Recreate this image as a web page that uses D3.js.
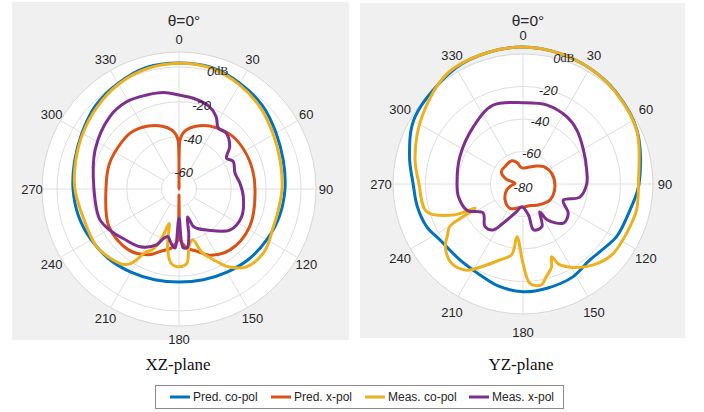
<!DOCTYPE html>
<html>
<head>
<meta charset="utf-8">
<script src="https://cdn.jsdelivr.net/npm/d3@7"></script>
<style>
  body { margin: 0; background: #ffffff; }
  svg { display: block; }
  text { font-family: "Liberation Sans", Arial, sans-serif; }
</style>
</head>
<body>
<svg id="chart" width="704" height="412"></svg>
<script>
// ---- Data: [angle in degrees (clockwise from theta=0), level in dB] ----

// XZ-plane
const xzPredCo = [[0,2.3],[15,2.2],[30,0.0],[45,-2.3],[60,-5.7],[75,-8.0],[90,-9.2],[105,-10.3],[120,-11.8],[135,-13.2],[150,-14.9],[165,-16.1],[180,-16.6],[195,-16.1],[210,-14.9],[225,-13.2],[240,-11.8],[255,-10.3],[270,-9.2],[285,-8.0],[300,-5.7],[315,-2.3],[330,0.0],[345,2.2]];
const xzPredX = [[0,-72],[1,-42.5],[3,-39.0],[7,-35.9],[15,-32.7],[26,-29.8],[40,-27.5],[50,-26.6],[70,-26.4],[90,-26.4],[118,-24.1],[140,-24.4],[155,-28.1],[165,-33.3],[172,-35.6],[176,-38.4],[179,-41.3],[180,-66.6],[181,-41.3],[184,-38.4],[188,-35.6],[195,-33.3],[205,-28.4],[220,-24.6],[242,-24.4],[270,-28.1],[290,-27.5],[310,-27.5],[320,-27.5],[334,-29.8],[345,-32.7],[353,-35.9],[357,-39.0],[359,-42.5]];
const xzMeasCo = [[0,2.1],[15,1.7],[30,-0.9],[45,-4.0],[60,-7.5],[75,-9.8],[90,-10.9],[105,-11.8],[112,-11.7],[120,-10.3],[127,-9.2],[139,-10.9],[147,-16.6],[154,-24.8],[160,-31.2],[165,-39.8],[170,-36.7],[174,-27.1],[180,-25.4],[186,-27.1],[191,-35.6],[196,-49.4],[199,-41.3],[203,-32.7],[208,-28.7],[213,-18.9],[217,-16.0],[225,-14.0],[235,-12.3],[248,-12.8],[270,-10.3],[285,-8.6],[300,-6.3],[315,-3.5],[330,-0.6],[345,1.4]];
const xzMeasX = [[0,-16.1],[9,-17.3],[20,-19.5],[27,-23.2],[33,-28.5],[40,-28.0],[50,-32.0],[57,-37.5],[63,-35.1],[74,-36.6],[85,-34.8],[97,-32.8],[114,-30.7],[129,-32.5],[146,-41.6],[155,-45.0],[159,-47.0],[163,-53.2],[168,-43.0],[172,-36.0],[176,-36.3],[180,-53.2],[184,-36.0],[189,-39.0],[193,-42.0],[197,-40.5],[202,-35.4],[214,-30.1],[228,-27.3],[239,-23.9],[249,-21.3],[270,-21.2],[295,-16.9],[316,-12.6],[329,-11.6],[341,-13.0],[351,-14.0]];

// YZ-plane
const yzPredCo = [[0,4.3],[15,3.5],[30,2.2],[45,0.5],[65,-2.5],[90,-8.6],[104,-12.3],[119,-13.9],[131,-16.9],[139,-17.7],[152,-15.1],[167,-14.2],[180,-13.7],[193,-15.3],[205,-18.1],[220,-19.3],[236,-18.4],[246,-15.2],[258,-13.5],[270,-12.4],[284,-8.0],[302,-1.7],[330,2.5],[345,3.8]];
const yzPredX = [[0,-70.2],[20,-68.9],[37,-66.1],[50,-63.4],[70,-61.2],[95,-60.3],[120,-60.7],[144,-64.0],[160,-65.9],[175,-66.0],[190,-65.2],[208,-63.0],[228,-65.2],[250,-69.3],[262,-72.6],[275,-75.1],[287,-69.0],[300,-64.6],[315,-64.6],[334,-64.1],[345,-66.5],[352,-69.5]];
const yzMeasCo = [[0,4.3],[15,3.5],[30,2.2],[45,0.3],[65,-2.7],[90,-9.0],[103,-8.3],[115,-9.4],[128,-10.0],[139,-14.0],[149,-20.1],[156,-26.0],[158.5,-31.9],[161,-26.0],[166,-21.1],[170,-16.8],[176,-18.7],[180,-31.2],[186.5,-47.3],[189,-36.0],[197,-31.1],[207,-22.7],[213,-16.7],[222,-14.3],[231,-18.5],[236,-24.0],[240,-28.0],[243,-46.9],[246,-33.0],[254,-18.3],[270,-16.0],[284,-11.5],[304,-5.2],[326,2.5],[345,3.8]];
const yzMeasX = [[0,-30.0],[17,-29.2],[33,-30.6],[45,-33.1],[61,-37.4],[78,-39.9],[90,-40.8],[103,-44.1],[112,-53.3],[123,-46.8],[134,-45.4],[146,-53.5],[149,-60.0],[156,-51.3],[167,-51.0],[170,-60.6],[183,-66.0],[193,-62.5],[207,-52.9],[213,-46.3],[222,-44.9],[234,-49.7],[245,-41.9],[259,-39.5],[270,-39.4],[293,-37.7],[319,-33.4],[339,-28.1]];

// Axis ticks and labels
const angleTicks = [0, 30, 60, 90, 120, 150, 180, 210, 240, 270, 300, 330];
const xzRings = [-60, -40, -20, 0];
const yzRings = [-60, -40, -20];
const xzMagLabels = [-60, -40, -20, 0];
const yzMagLabels = [-80, -60, -40, -20, 0];
const seriesNames = ["Pred. co-pol", "Pred. x-pol", "Meas. co-pol", "Meas. x-pol"];
const seriesColors = ["#0072BD", "#D95319", "#EDB120", "#7E2F8E"];
const panelTitle = "θ=0°";
const panelCaptions = ["XZ-plane", "YZ-plane"];

const svg = d3.select("#chart");
const rad = Math.PI / 180;

function drawPanel(cfg) {
  const g = svg.append("g");
  g.append("rect")
    .attr("x", cfg.box[0]).attr("y", cfg.box[1])
    .attr("width", cfg.box[2]).attr("height", cfg.box[3])
    .attr("fill", "#f0f0f0");

  const r = d3.scaleLinear().domain(cfg.domain).range([0, cfg.R]);
  const rr = v => Math.max(0, r(v));
  const p = g.append("g").attr("transform", `translate(${cfg.cx},${cfg.cy})`);

  // plot disc and outer edge
  p.append("circle").attr("r", cfg.R).attr("fill", "#ffffff")
    .attr("stroke", "#d7d7d7").attr("stroke-width", 1);

  // magnitude rings
  p.selectAll("circle.ring").data(cfg.rings).join("circle")
    .attr("class", "ring").attr("r", d => r(d))
    .attr("fill", "none").attr("stroke", "#dedede").attr("stroke-width", 1);

  // angle spokes
  const r0 = r(cfg.rings[0]);
  p.selectAll("line.spoke").data(angleTicks).join("line")
    .attr("class", "spoke")
    .attr("x1", d => r0 * Math.sin(d * rad)).attr("y1", d => -r0 * Math.cos(d * rad))
    .attr("x2", d => cfg.R * Math.sin(d * rad)).attr("y2", d => -cfg.R * Math.cos(d * rad))
    .attr("stroke", "#dedede").attr("stroke-width", 1);

  // angle labels
  p.selectAll("text.ang").data(angleTicks).join("text")
    .attr("class", "ang")
    .attr("x", d => cfg.labelR[0] * Math.sin(d * rad))
    .attr("y", d => -cfg.labelR[1] * Math.cos(d * rad))
    .attr("text-anchor", "middle").attr("dominant-baseline", "central")
    .attr("font-size", 13).attr("fill", "#262626")
    .text(d => d);

  // pattern traces
  const line = d3.lineRadial()
    .angle(d => d[0] * rad)
    .radius(d => rr(d[1]))
    .curve(d3.curveCatmullRomClosed.alpha(0.5));
  cfg.series.forEach((s, i) => {
    p.append("path").attr("d", line(s))
      .attr("fill", "none").attr("stroke", seriesColors[i])
      .attr("stroke-width", 3).attr("stroke-linejoin", "round");
  });

  // magnitude labels along the 15 degree radial
  const a = 15 * rad;
  cfg.magLabels.forEach(v => {
    const t = p.append("text")
      .attr("x", rr(v) * Math.sin(a) - (v === 0 ? 3.5 : 0))
      .attr("y", -rr(v) * Math.cos(a) + (v === cfg.domain[0] ? 2.5 : 0))
      .attr("text-anchor", v === 0 ? "start" : "middle")
      .attr("dominant-baseline", "central")
      .attr("font-size", 13).attr("font-style", "italic").attr("fill", "#262626");
    t.append("tspan").text(v);
    if (v === 0) {
      t.append("tspan").text("dB")
        .attr("font-family", "'Liberation Serif', serif")
        .attr("font-style", "normal").attr("font-size", 12);
    }
  });

  // title above 0 degrees
  g.append("text").attr("x", cfg.cx + 5).attr("y", 26)
    .attr("text-anchor", "middle").attr("font-size", 15.5).attr("fill", "#262626")
    .text(panelTitle);

  // plane caption
  g.append("text").attr("x", cfg.captionX).attr("y", 370)
    .attr("text-anchor", "middle")
    .style("font-family", "'Liberation Serif', 'Times New Roman', serif")
    .attr("font-size", 17).attr("fill", "#111")
    .text(cfg.caption);
}

drawPanel({
  box: [12, 2, 337, 338], cx: 179, cy: 189, R: 137, domain: [-70, 8.6],
  rings: xzRings, magLabels: xzMagLabels, labelR: [147, 150],
  series: [xzPredCo, xzPredX, xzMeasCo, xzMeasX],
  caption: panelCaptions[0], captionX: 178
});

drawPanel({
  box: [360, 3, 325, 335], cx: 523, cy: 184, R: 130, domain: [-80, 0],
  rings: yzRings, magLabels: yzMagLabels, labelR: [142, 148.5],
  series: [yzPredCo, yzPredX, yzMeasCo, yzMeasX],
  caption: panelCaptions[1], captionX: 521
});

// legend
const lg = svg.append("g");
lg.append("rect").attr("x", 155.5).attr("y", 385.5).attr("width", 408).attr("height", 23)
  .attr("fill", "#ffffff").attr("stroke", "#8c8c8c").attr("stroke-width", 1);
const legendX = [170, 271, 365, 469];
seriesNames.forEach((name, i) => {
  lg.append("line").attr("x1", legendX[i]).attr("x2", legendX[i] + 20)
    .attr("y1", 397).attr("y2", 397)
    .attr("stroke", seriesColors[i]).attr("stroke-width", 3);
  lg.append("text").attr("x", legendX[i] + 23).attr("y", 397)
    .attr("dominant-baseline", "central").attr("font-size", 12).attr("fill", "#262626")
    .text(name);
});
</script>
</body>
</html>
